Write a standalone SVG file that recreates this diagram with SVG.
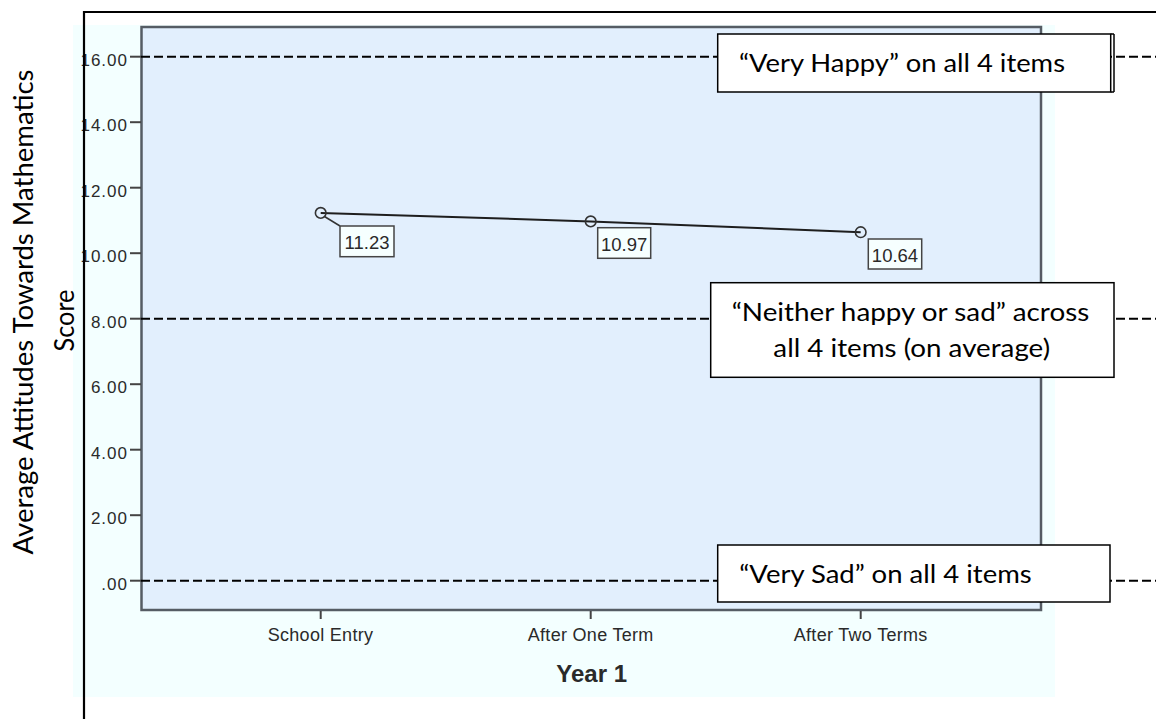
<svg xmlns="http://www.w3.org/2000/svg" width="1156" height="719" viewBox="0 0 1156 719">
<style>
.spss{font-family:"Liberation Sans",Arial,sans-serif;fill:#2a2a2a}
.tick{font-size:17px;letter-spacing:1px;text-anchor:end}
.xl{font-size:18px;letter-spacing:0.3px;text-anchor:middle}
.cal{font-family:Lato,"Open Sans",sans-serif;fill:#000}
.ann{fill:#fff;stroke:#000;stroke-width:1.5}
.dash{stroke:#000;stroke-width:2;stroke-dasharray:9 4;fill:none}
.lab{fill:#f6ffff;stroke:#444;stroke-width:1.5}
.tk{stroke:#444;stroke-width:2}
</style>
<defs>
<clipPath id="nclip"><rect x="711" y="283" width="403" height="79"/></clipPath>
</defs>
<rect width="1156" height="719" fill="#fff"/>
<g id="chart">
<rect x="73" y="25" width="982" height="672" fill="#f3ffff"/>
<rect x="141.5" y="27" width="899.5" height="583" fill="#e2effd" stroke="#555c64" stroke-width="2.5"/>
</g>
<g id="y-axis">
<g class="tk">
<line x1="130" y1="56.7" x2="141" y2="56.7"/>
<line x1="130" y1="122.2" x2="141" y2="122.2"/>
<line x1="130" y1="187.7" x2="141" y2="187.7"/>
<line x1="130" y1="253.2" x2="141" y2="253.2"/>
<line x1="130" y1="318.7" x2="141" y2="318.7"/>
<line x1="130" y1="384.2" x2="141" y2="384.2"/>
<line x1="130" y1="449.7" x2="141" y2="449.7"/>
<line x1="130" y1="515.2" x2="141" y2="515.2"/>
<line x1="130" y1="580.7" x2="141" y2="580.7"/>
</g>
<g class="spss tick">
<text x="128" y="65.5">16.00</text>
<text x="128" y="131">14.00</text>
<text x="128" y="196.5">12.00</text>
<text x="128" y="262">10.00</text>
<text x="128" y="327.5">8.00</text>
<text x="128" y="393">6.00</text>
<text x="128" y="458.5">4.00</text>
<text x="128" y="524">2.00</text>
<text x="128" y="589.5">.00</text>
</g>
</g>
<g id="x-axis">
<g class="tk">
<line x1="320.7" y1="611" x2="320.7" y2="619"/>
<line x1="590.7" y1="611" x2="590.7" y2="619"/>
<line x1="860.7" y1="611" x2="860.7" y2="619"/>
</g>
<g class="spss xl">
<text x="320.5" y="641">School Entry</text>
<text x="590.7" y="641">After One Term</text>
<text x="860.7" y="641">After Two Terms</text>
</g>
<text class="spss" x="591.7" y="682" font-size="24" font-weight="bold" text-anchor="middle" fill="#1a1a1a">Year 1</text>
</g>
<g id="y-title" class="cal" font-size="27">
<text transform="translate(33,312) rotate(-90)" text-anchor="middle" textLength="485" lengthAdjust="spacingAndGlyphs">Average Attitudes Towards Mathematics</text>
<text transform="translate(74,320.5) rotate(-90)" text-anchor="middle" textLength="62" lengthAdjust="spacingAndGlyphs">Score</text>
</g>
<g id="reference-lines">
<line class="dash" x1="141" y1="56.7" x2="1156" y2="56.7"/>
<line class="dash" x1="141" y1="318.7" x2="1156" y2="318.7"/>
<line class="dash" x1="141" y1="580.7" x2="1156" y2="580.7"/>
</g>
<g id="connectors">
<polyline points="320.7,212.9 590.7,221.4 860.7,232.2" fill="none" stroke="#1e1e1e" stroke-width="2"/>
<line x1="324.5" y1="216.5" x2="340" y2="226" stroke="#333" stroke-width="1.5"/>
</g>
<g id="point-school-entry">
<circle cx="320.7" cy="212.9" r="5.3" fill="none" stroke="#333" stroke-width="1.6"/>
<rect class="lab" x="340" y="226" width="54" height="30.7"/>
<text class="spss" x="367" y="249" font-size="18.5" text-anchor="middle" fill="#111">11.23</text>
</g>
<g id="point-after-one-term">
<circle cx="590.7" cy="221.4" r="5.3" fill="none" stroke="#333" stroke-width="1.6"/>
<rect class="lab" x="597.7" y="227.7" width="53" height="30.6"/>
<text class="spss" x="624.2" y="250.5" font-size="18.5" text-anchor="middle" fill="#111">10.97</text>
</g>
<g id="point-after-two-terms">
<circle cx="860.7" cy="232.2" r="5.3" fill="none" stroke="#333" stroke-width="1.6"/>
<rect class="lab" x="868.3" y="239" width="53.4" height="30"/>
<text class="spss" x="895" y="261.5" font-size="18.5" text-anchor="middle" fill="#111">10.64</text>
</g>
<g id="note-very-happy">
<rect class="ann" x="717.7" y="34" width="393" height="58"/>
<line x1="1114" y1="34" x2="1114" y2="92" stroke="#000" stroke-width="1.5"/>
<line x1="1110.7" y1="34" x2="1114" y2="34" stroke="#000" stroke-width="1.5"/>
<line x1="1110.7" y1="92" x2="1114" y2="92" stroke="#000" stroke-width="1.5"/>
<text class="cal" x="739" y="71.7" font-size="25" textLength="326" lengthAdjust="spacingAndGlyphs">“Very Happy” on all 4 items</text>
</g>
<g id="note-neither">
<rect class="ann" x="710.7" y="282.7" width="403.3" height="94.6"/>
<g clip-path="url(#nclip)">
<text class="cal" x="910.5" y="320.7" font-size="25" text-anchor="middle" textLength="357.6" lengthAdjust="spacingAndGlyphs">“Neither happy or sad” across</text>
<text class="cal" x="911.7" y="357.3" font-size="25" text-anchor="middle" textLength="276.7" lengthAdjust="spacingAndGlyphs">all 4 items (on average)</text>
</g>
</g>
<g id="note-very-sad">
<rect class="ann" x="717.7" y="545" width="392.3" height="57"/>
<text class="cal" x="739.3" y="583.3" font-size="25" textLength="292.4" lengthAdjust="spacingAndGlyphs">“Very Sad” on all 4 items</text>
</g>
<g id="frame">
<polyline points="84,719 84,12 1156,12" fill="none" stroke="#000" stroke-width="2.2"/>
</g>
</svg>
